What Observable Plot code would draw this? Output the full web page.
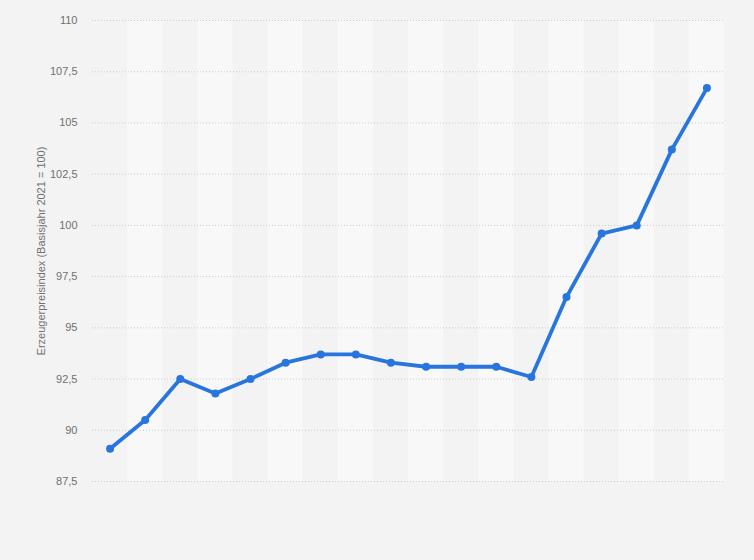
<!DOCTYPE html>
<html><head><meta charset="utf-8">
<script src="https://cdn.jsdelivr.net/npm/d3@7"></script>
<script src="https://cdn.jsdelivr.net/npm/@observablehq/plot@0.6"></script>
<style>html,body{margin:0;padding:0;background:#f3f3f3;}</style>
</head><body><div id="chart"></div>
<script>
const periods = [1, 2, 3, 4, 5, 6, 7, 8, 9, 10, 11, 12, 13, 14, 15, 16, 17, 18];
const values = [89.1, 90.5, 92.5, 91.8, 92.5, 93.3, 93.7, 93.7, 93.3, 93.1, 93.1, 93.1, 92.6, 96.5, 99.6, 100.0, 103.7, 106.7];
const yTicks = [87.5, 90, 92.5, 95, 97.5, 100, 102.5, 105, 107.5, 110];
const yLabel = "Erzeugerpreisindex (Basisjahr 2021 = 100)";

const data = periods.map((p, i) => ({i, p, v: values[i]}));
const fmt = d => String(d).replace(".", ",");
const blue = "#2876dd";

const chart = Plot.plot({
  width: 754, height: 560,
  marginLeft: 92, marginRight: 30, marginTop: 20, marginBottom: 79,
  style: {background: "#f3f3f3", fontFamily: "'Liberation Sans', Arial, sans-serif", fontSize: "11px"},
  x: {domain: [-0.5, periods.length - 0.5], axis: null},
  y: {domain: [87.5, 110], ticks: yTicks, tickFormat: fmt, label: null, axis: null},
  marks: [
    Plot.rect(data.filter(d => d.i % 2 === 1), {x1: d => d.i - 0.5, x2: d => d.i + 0.5, y1: 87.5, y2: 110, fill: "#f8f8f8"}),
    Plot.ruleY(yTicks, {stroke: "#cccccc", strokeDasharray: "1,2"}),
    Plot.axisY({ticks: yTicks, tickFormat: fmt, tickSize: 0, tickPadding: 15, color: "#707070", label: null}),
    Plot.text([yLabel], {frameAnchor: "left", textAnchor: "middle", rotate: -90, dx: -51, fill: "#707070", fontSize: 11}),
    Plot.line(data, {x: "i", y: "v", stroke: blue, strokeWidth: 3.8}),
    Plot.dot(data, {x: "i", y: "v", r: 4, fill: blue})
  ]
});
document.getElementById("chart").append(chart);
</script>
</body></html>
